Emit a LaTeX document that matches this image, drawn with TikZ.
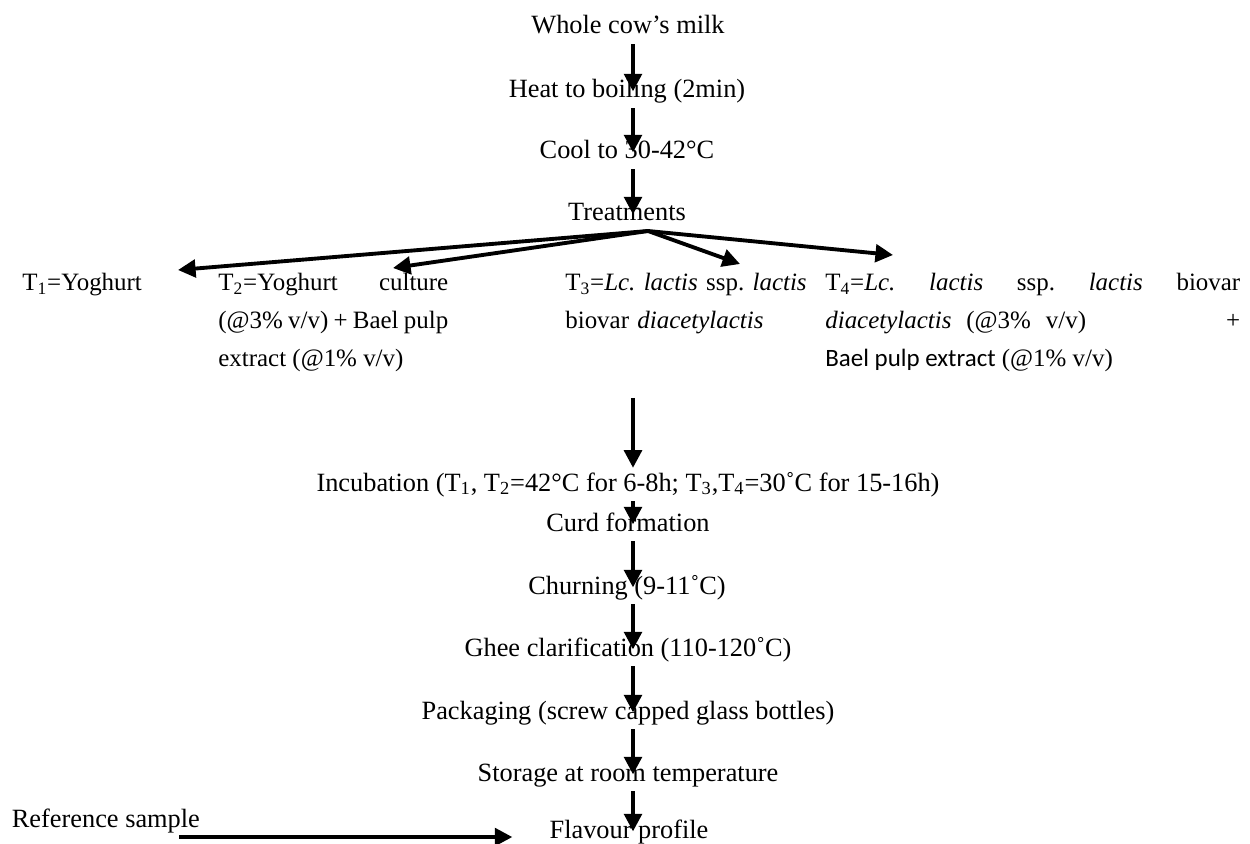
\documentclass[tikz,border=0pt]{standalone}
\usepackage{fontspec}
\setmainfont{Liberation Serif}
\newfontfamily\baelfont{Carlito}
\usetikzlibrary{arrows.meta}

\begin{document}
\begin{tikzpicture}[x=0.02cm, y=-0.02cm, font=\fontsize{15}{21.5}\selectfont,
		stage/.style={anchor=base, inner sep=2pt, text height=11pt, text depth=3.5pt},
		cell/.style={anchor=base west, inner sep=0pt, align=justify, font=\fontsize{14.2}{21.5}\selectfont},
		flow/.style={-{Triangle[length=10pt, width=10pt]}, line width=2.2pt}]
		\useasboundingbox (0,0) rectangle (1250,844);
		\coordinate (spine) at (633,0);
		% main line
		\node[stage] (milk) at (628,34) {Whole cow's milk};
		\node[stage] (heat) at (627,98) {Heat to boiling (2min)};
		\node[stage] (cool) at (627,159) {Cool to 30-42°C};
		\node[stage] (treat) at (627,221) {Treatments};
		\draw[flow] (milk.south -| spine) -- (heat.center -| spine);
		\draw[flow] (heat.south -| spine) -- (cool.center -| spine);
		\draw[flow] (cool.south -| spine) -- (treat.center -| spine);
		% treatments
		\node[cell] (tone) at (22,291) {T\textsubscript{1}=Yoghurt};
		\node[cell, text width=4.6cm] (ttwo) at (218,291) {T\textsubscript{2}=Yoghurt culture\linebreak (@3\% v/v) + Bael pulp\linebreak extract (@1\% v/v)};
		\node[cell, text width=5.2cm, align=left] (tthree) at (565,291) {T\textsubscript{3}=\textit{Lc.\ lactis} ssp.\ \textit{lactis}\\ biovar \textit{diacetylactis}};
		\node[cell, text width=8.3cm] (tfour) at (825,291) {T\textsubscript{4}=\textit{Lc.\ lactis} ssp.\ \textit{lactis} biovar\linebreak \textit{diacetylactis}\hspace{0.6em}(@3\%\hspace{0.6em}v/v)\hfill+\linebreak {\baelfont Bael pulp extract} (@1\% v/v)};
		\coordinate (fork) at (648,231);
		\coordinate (tipone) at (178,270);
		\coordinate (tiptwo) at (393,268);
		\coordinate (tipthree) at (740,264);
		\coordinate (tipfour) at (893,255);
		\foreach \t in {tipone,tiptwo,tipthree,tipfour}
			\draw[flow] (fork) -- (\t);
		% processing
		\node[stage] (incub) at (628,491) {Incubation (T\textsubscript{1}, T\textsubscript{2}=42°C for 6-8h; T\textsubscript{3},T\textsubscript{4}=30˚C for 15-16h)};
		\node[stage] (curd) at (628,531) {Curd formation};
		\node[stage] (churn) at (627,594) {Churning (9-11˚C)};
		\node[stage] (ghee) at (628,656) {Ghee clarification (110-120˚C)};
		\node[stage] (pack) at (628,719) {Packaging (screw capped glass bottles)};
		\node[stage] (store) at (628,781) {Storage at room temperature};
		\node[stage] (flavour) at (629,838) {Flavour profile};
		\node[stage, anchor=base west] (ref) at (8,827) {Reference sample};
		\draw[flow, shorten <=36pt] (tthree.south -| spine) -- (incub.north -| spine);
		\draw[flow] (incub.south -| spine) -- (curd.center -| spine);
		\draw[flow] (curd.south -| spine) -- (churn.center -| spine);
		\draw[flow] (churn.south -| spine) -- (ghee.center -| spine);
		\draw[flow] (ghee.south -| spine) -- (pack.center -| spine);
		\draw[flow] (pack.south -| spine) -- (store.center -| spine);
		\draw[flow] (store.south -| spine) -- (flavour.center -| spine);
		\draw[flow] ([xshift=-14pt]ref.south east) -- ([xshift=-19pt]ref.south east -| flavour.west);
	\end{tikzpicture}
\end{document}
